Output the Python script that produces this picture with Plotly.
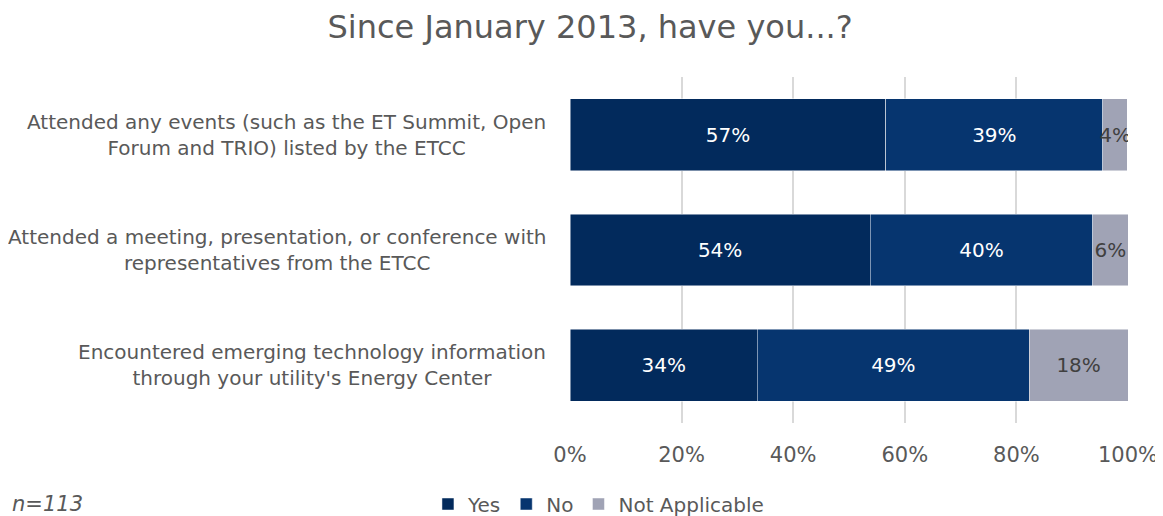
import plotly.graph_objects as go

categories = [
    "Attended any events (such as the ET Summit, Open<br>Forum and TRIO) listed by the ETCC",
    "Attended a meeting, presentation, or conference with<br>representatives from the ETCC",
    "Encountered emerging technology information<br>through your utility's Energy Center",
]
yes_vals = [56.6, 53.8, 33.6]
no_vals = [38.9, 39.9, 48.7]
na_vals = [4.4, 6.3, 17.7]
series_names = ["Yes", "No", "Not Applicable"]
colors = ["#022a5c", "#06356f", "#a0a3b5"]
text_colors = ["white", "white", "#404040"]
x_ticks = [0, 20, 40, 60, 80, 100]
x_tick_labels = ["0%", "20%", "40%", "60%", "80%", "100%"]

FONT = "DejaVu Sans"
GREY = "#595959"

fig = go.Figure()
for name, vals, col, tc in zip(series_names, [yes_vals, no_vals, na_vals], colors, text_colors):
    fig.add_trace(go.Bar(
        y=categories, x=vals, name=name, orientation="h",
        marker=dict(color=col, line=dict(color="rgba(255,255,255,0.6)", width=0.8)),
        text=[f"{round(v)}%" for v in vals],
        textposition="inside", insidetextanchor="middle", textangle=0,
        textfont=dict(color=tc, size=20, family=FONT),
        hoverinfo="skip",
    ))

for c in categories:
    fig.add_annotation(
        x=-0.039, xref="paper", y=c, yref="y", text=c, showarrow=False,
        xanchor="right", yanchor="middle", align="center",
        font=dict(size=20, color=GREY, family=FONT),
    )

fig.add_annotation(
    x=-1.0036, xref="paper", y=-0.234, yref="paper", text="<i>n=113</i>",
    showarrow=False, xanchor="left", yanchor="middle",
    font=dict(size=21, color=GREY, family=FONT),
)

fig.update_layout(
    barmode="stack",
    bargap=0.377,
    width=1155, height=508,
    margin=dict(l=562, r=35, t=69, b=93),
    paper_bgcolor="white", plot_bgcolor="white",
    title=dict(text="Since January 2013, have you...?", x=0.504, xref="container",
               xanchor="center", y=0.963, yanchor="middle",
               font=dict(size=32, color=GREY, family=FONT)),
    uniformtext=dict(mode="show", minsize=20),
    legend=dict(orientation="h", x=0.3636, xref="container", xanchor="left",
                y=0.0236, yref="container", yanchor="middle",
                font=dict(size=20, color=GREY, family=FONT), traceorder="normal",
                itemwidth=30, bgcolor="rgba(0,0,0,0)"),
    showlegend=True,
)
fig.update_xaxes(range=[0, 100], tickvals=x_ticks, ticktext=x_tick_labels,
                 showgrid=True, gridcolor="#d9d9d9", gridwidth=1.5, zeroline=False,
                 tickfont=dict(size=21, color=GREY, family=FONT), ticks="", ticklen=0,
                 ticklabelstandoff=17,
                 fixedrange=True, showline=False, automargin=False)
fig.update_yaxes(autorange="reversed", showticklabels=False, showgrid=False, ticks="",
                 fixedrange=True, automargin=False)

fig.write_html("out.html")
